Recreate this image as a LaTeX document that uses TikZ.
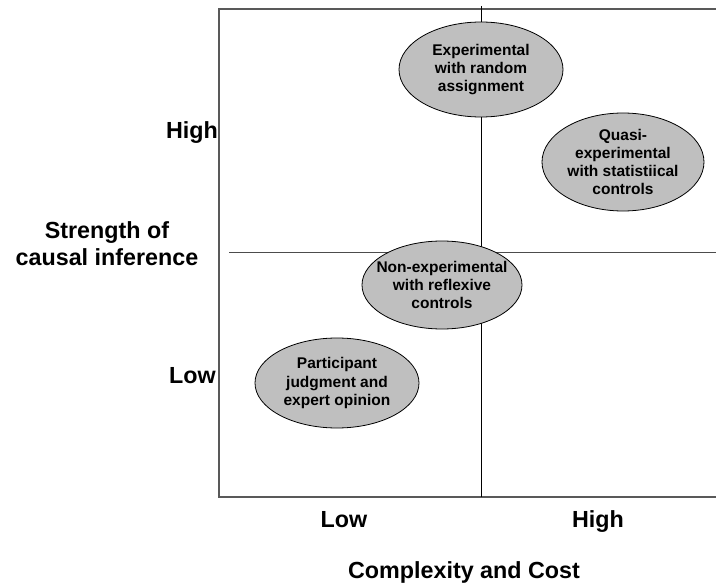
\documentclass[tikz,border=0pt]{standalone}
\usepackage{fontspec}
\setmainfont{Liberation Sans}
\usetikzlibrary{shapes.geometric}
\begin{document}
\begin{tikzpicture}[x=1pt,y=-1pt,
  frameline/.style={draw=black!65,line width=1.3pt},
  divline/.style={draw=black,line width=0.8pt},
  hdivline/.style={draw=black!70,line width=1pt},
  oval/.style={ellipse,draw=black,line width=0.8pt,fill=black!25,inner sep=0pt},
  ovaltext/.style={inner sep=0pt,align=center,font=\fontsize{15.5}{18.3}\selectfont\bfseries},
  axislabel/.style={inner sep=0pt,font=\fontsize{23.3}{27}\selectfont\bfseries,align=center}]
\useasboundingbox (0,0) rectangle (716,586);
% frame
\coordinate (ftr) at (716,9);
\coordinate (ftl) at (219,9);
\coordinate (fbl) at (219,497);
\coordinate (fbr) at (716,497);
\draw[frameline] (ftr) -- (ftl) -- (fbl) -- (fbr);
% dividers
\coordinate (vt) at (481,6);
\coordinate (vb) at (481,497);
\coordinate (hl) at (229,252);
\coordinate (hr) at (716,252);
\draw[divline] (vt) -- (vb);
\draw[hdivline] (hl) -- (hr);
% ellipses
\node[oval,minimum width=164pt,minimum height=95pt] (exp) at (481,69.5) {};
\node[ovaltext] (exptext) at (exp) {Experimental\\with random\\assignment};
\node[oval,minimum width=162pt,minimum height=98pt] (quasi) at (623,162) {};
\node[ovaltext] (quasitext) at (quasi) {Quasi-\\experimental\\with statistiical\\controls};
\node[oval,minimum width=160pt,minimum height=88pt] (nonexp) at (442,285) {};
\node[ovaltext] (nonexptext) at (nonexp) {Non-experimental\\with reflexive\\controls};
\node[oval,minimum width=164pt,minimum height=90pt] (part) at (337,383) {};
\node[ovaltext] (parttext) at (part) {Participant\\judgment and\\expert opinion};
% axis labels
\node[axislabel,anchor=base east] (yhigh) at (218,139) {High};
\node[axislabel,anchor=base east] (ylow) at (216,383) {Low};
\node[axislabel,anchor=base] (ytitle) at (107,265) {Strength of\\causal inference};
\node[axislabel,anchor=base] (xlow) at (344,527) {Low};
\node[axislabel,anchor=base] (xhigh) at (598,527) {High};
\node[axislabel,anchor=base] (xtitle) at (464,578) {Complexity and Cost};
\end{tikzpicture}
\end{document}
